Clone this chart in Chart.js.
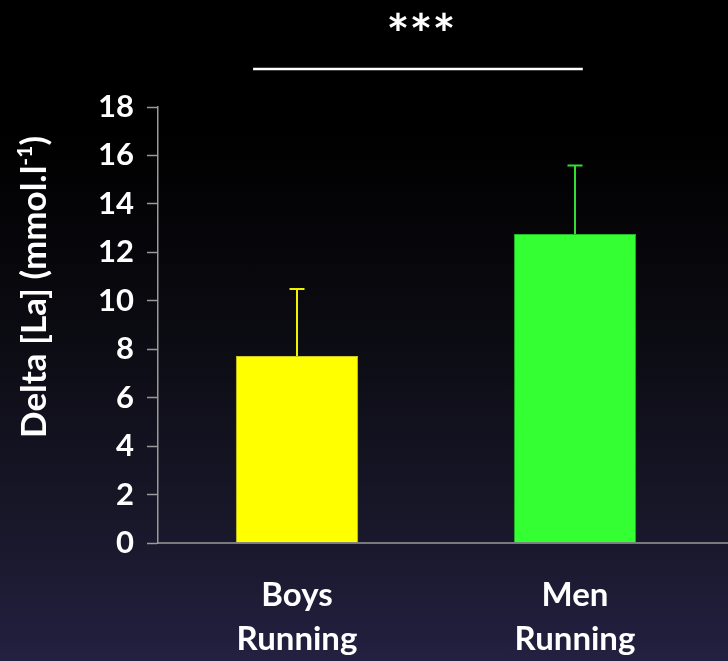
<!DOCTYPE html>
<html>
<head>
<meta charset="utf-8">
<script src="https://cdn.jsdelivr.net/npm/chart.js@4.4.1/dist/chart.umd.min.js"></script>
<style>
    html, body {
        margin: 0;
        padding: 0;
    }
    body {
        width: 728px;
        height: 661px;
        background: linear-gradient(to bottom, #000000 0%, #000000 20%, #0b0b12 50%, #1a182c 82%, #232041 100%);
        overflow: hidden;
    }
    #wrap {
        position: relative;
        width: 728px;
        height: 661px;
    }
</style>
</head>
<body>
<div id="wrap"><canvas id="lactateChart"></canvas></div>
<script>
// Data
const categories = [['Boys', 'Running'], ['Men', 'Running']];
const meanValues = [7.72, 12.76];
const sdValues = [2.77, 2.83];
const barColors = ['#ffff00', '#33ff33'];
const barEdges = ['#c8c820', '#22b822'];
const errorColors = ['#f2f200', '#33dd33'];
const yTicks = [0, 2, 4, 6, 8, 10, 12, 14, 16, 18];
const yTitle = 'Delta [La] (mmol.l';
const yTitleSup = '-1';
const sigLabel = '***';

const axisGrey = '#9a9a9a';

// Error bars, significance bracket and axis title
const extrasPlugin = {
    id: 'extras',
    afterDatasetsDraw(chart) {
        const ctx = chart.ctx;
        const y = chart.scales.y;
        const x = chart.scales.x;
        const area = chart.chartArea;
        const bars = chart.getDatasetMeta(0).data;

        ctx.save();
        // x axis line runs to the edge of the canvas
        ctx.strokeStyle = axisGrey;
        ctx.lineWidth = 1.5;
        ctx.beginPath();
        ctx.moveTo(area.left, area.bottom);
        ctx.lineTo(chart.width, area.bottom);
        ctx.stroke();

        // upper error bars
        bars.forEach((bar, i) => {
            const top = y.getPixelForValue(meanValues[i] + sdValues[i]);
            ctx.strokeStyle = errorColors[i];
            ctx.lineWidth = 2;
            ctx.beginPath();
            ctx.moveTo(bar.x, bar.y);
            ctx.lineTo(bar.x, top);
            ctx.moveTo(bar.x - 7.5, top);
            ctx.lineTo(bar.x + 7.5, top);
            ctx.stroke();
        });

        // significance line and stars
        const x1 = x.getPixelForDecimal(0.171);
        const x2 = x.getPixelForDecimal(0.764);
        ctx.strokeStyle = '#ffffff';
        ctx.lineWidth = 2.5;
        ctx.beginPath();
        ctx.moveTo(x1, 69);
        ctx.lineTo(x2, 69);
        ctx.stroke();

        ctx.fillStyle = '#ffffff';
        ctx.font = 'bold 54px Lato';
        ctx.textAlign = 'center';
        ctx.textBaseline = 'middle';
        ctx.fillText(sigLabel, (x1 + x2) / 2 + 3, 36);

        // rotated y axis title with superscript
        ctx.translate(35, 287);
        ctx.rotate(-Math.PI / 2);
        ctx.font = 'bold 35px Lato';
        const mainW = ctx.measureText(yTitle).width;
        ctx.font = 'bold 21px Lato';
        const supW = ctx.measureText(yTitleSup).width;
        ctx.font = 'bold 35px Lato';
        const closeW = ctx.measureText(')').width;
        let cx = -(mainW + supW + closeW) / 2;
        ctx.textAlign = 'left';
        ctx.textBaseline = 'middle';
        ctx.fillText(yTitle, cx, 0);
        cx += mainW;
        ctx.font = 'bold 21px Lato';
        ctx.fillText(yTitleSup, cx, -10);
        cx += supW;
        ctx.font = 'bold 35px Lato';
        ctx.fillText(')', cx, 0);
        ctx.restore();
    }
};

const ctx = document.getElementById('lactateChart').getContext('2d');

new Chart(ctx, {
    type: 'bar',
    data: {
        labels: categories,
        datasets: [{
            data: meanValues,
            backgroundColor: barColors,
            borderColor: barEdges,
            borderWidth: 1,
            categoryPercentage: 1,
            barPercentage: 0.44
        }]
    },
    options: {
        responsive: true,
        maintainAspectRatio: false,
        animation: false,
        layout: {
            padding: { top: 107, right: 14, bottom: 0, left: 0 }
        },
        plugins: {
            legend: { display: false },
            tooltip: { enabled: false }
        },
        scales: {
            y: {
                min: 0,
                max: 18,
                afterFit(scale) {
                    scale.width = 158;
                },
                afterBuildTicks(scale) {
                    scale.ticks = yTicks.map(v => ({ value: v }));
                },
                grid: {
                    drawOnChartArea: false,
                    drawTicks: true,
                    tickLength: 11,
                    tickWidth: 1.5,
                    tickColor: axisGrey
                },
                border: {
                    color: axisGrey,
                    width: 1.5
                },
                ticks: {
                    color: '#ffffff',
                    padding: 13,
                    font: { family: 'Lato', weight: 'bold', size: 31 }
                }
            },
            x: {
                afterFit(scale) {
                    scale.height = 118;
                },
                grid: {
                    display: false
                },
                border: {
                    display: false
                },
                ticks: {
                    color: '#ffffff',
                    padding: 22,
                    maxRotation: 0,
                    font: { family: 'Lato', weight: 'bold', size: 33, lineHeight: 1.35 }
                }
            }
        }
    },
    plugins: [extrasPlugin]
});
</script>
</body>
</html>
